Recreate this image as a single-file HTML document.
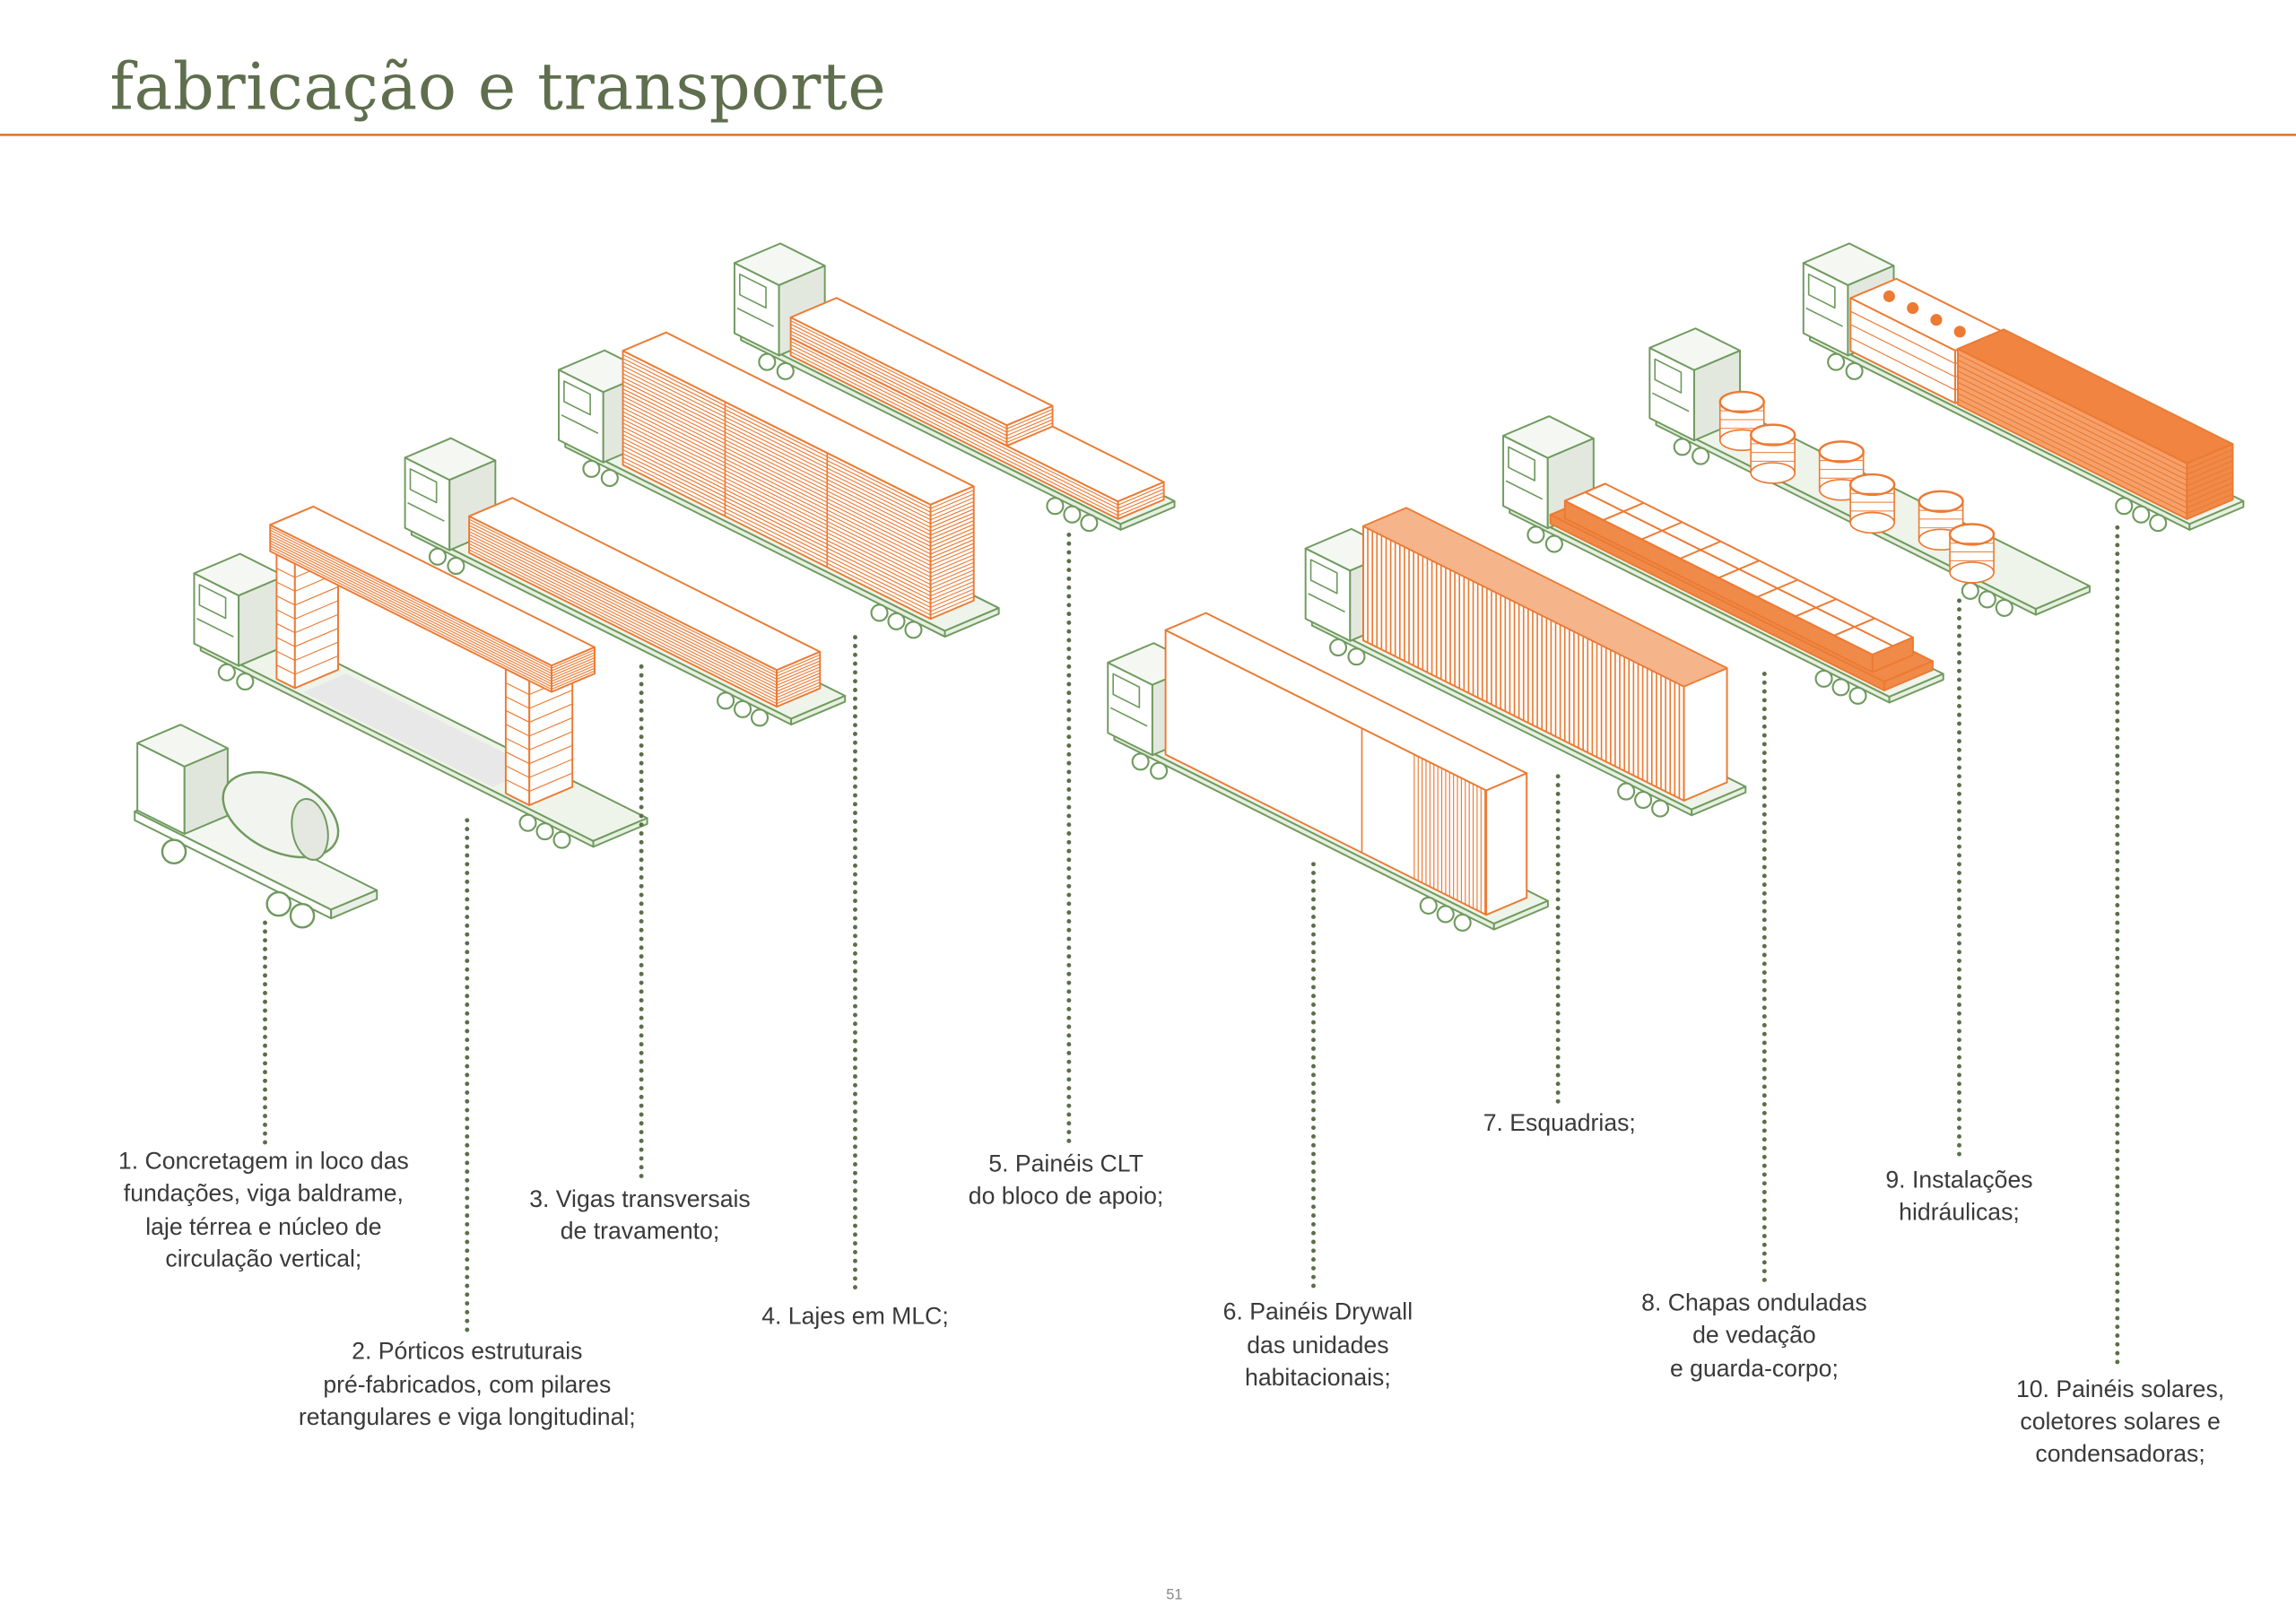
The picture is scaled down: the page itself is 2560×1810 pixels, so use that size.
<!DOCTYPE html>
<html><head><meta charset="utf-8">
<style>
html,body{margin:0;padding:0;background:#fff;}
svg{display:block}
.lb{font-family:"Liberation Sans",sans-serif;font-size:16.3px;fill:#3a3a3a;text-anchor:middle}
</style></head>
<body>
<svg id="s" width="2560" height="1810" viewBox="0 0 1568 1108" xmlns="http://www.w3.org/2000/svg">
<rect width="1568" height="1108" fill="#fff"/>
<text x="75" y="74" style="font-family:'DejaVu Serif','Liberation Serif',serif;font-size:44px;fill:#5f6f4e" textLength="530">fabricação e transporte</text>
<rect x="0" y="91" width="1568" height="1.6" fill="#d9773a"/>
<g id="tr"></g>
<g stroke="#5b6e4a" stroke-width="3" stroke-linecap="round" stroke-dasharray="0 6" fill="none">
<line x1="181" y1="630" x2="181" y2="785"/>
<line x1="319" y1="560" x2="319" y2="910"/>
<line x1="438" y1="455" x2="438" y2="805"/>
<line x1="584" y1="435" x2="584" y2="885"/>
<line x1="730" y1="365" x2="730" y2="780"/>
<line x1="897" y1="590" x2="897" y2="880"/>
<line x1="1064" y1="530" x2="1064" y2="755"/>
<line x1="1205" y1="460" x2="1205" y2="878"/>
<line x1="1338" y1="410" x2="1338" y2="792"/>
<line x1="1446" y1="360" x2="1446" y2="935"/>
</g>
<g class="lb">
<text class="lb" x="180" y="798">1. Concretagem in loco das</text>
<text class="lb" x="180" y="820">fundações, viga baldrame,</text>
<text class="lb" x="180" y="843">laje térrea e núcleo de</text>
<text class="lb" x="180" y="865">circulação vertical;</text>
<text class="lb" x="319" y="928">2. Pórticos estruturais</text>
<text class="lb" x="319" y="951">pré-fabricados, com pilares</text>
<text class="lb" x="319" y="973">retangulares e viga longitudinal;</text>
<text class="lb" x="437" y="824">3. Vigas transversais</text>
<text class="lb" x="437" y="846">de travamento;</text>
<text class="lb" x="584" y="904">4. Lajes em MLC;</text>
<text class="lb" x="728" y="800">5. Painéis CLT</text>
<text class="lb" x="728" y="822">do bloco de apoio;</text>
<text class="lb" x="900" y="901">6. Painéis Drywall</text>
<text class="lb" x="900" y="924">das unidades</text>
<text class="lb" x="900" y="946">habitacionais;</text>
<text class="lb" x="1065" y="772">7. Esquadrias;</text>
<text class="lb" x="1198" y="895">8. Chapas onduladas</text>
<text class="lb" x="1198" y="917">de vedação</text>
<text class="lb" x="1198" y="940">e guarda-corpo;</text>
<text class="lb" x="1338" y="811">9. Instalações</text>
<text class="lb" x="1338" y="833">hidráulicas;</text>
<text class="lb" x="1448" y="954">10. Painéis solares,</text>
<text class="lb" x="1448" y="976">coletores solares e</text>
<text class="lb" x="1448" y="998">condensadoras;</text>
</g>
<text x="802" y="1092" style="font-family:'Liberation Sans',sans-serif;font-size:10px;fill:#888;text-anchor:middle">51</text>
</svg>
<script>
(function(){
var NS="http://www.w3.org/2000/svg",g=document.getElementById("tr");
var u=[0.894,0.447],w=[0.92,-0.39];
var G="#6f9a5e",O="#ec7a33";
function P(o,l,ww,h){return [o[0]+l*u[0]+ww*w[0],o[1]+l*u[1]+ww*w[1]-h];}
function el(n,a){var e=document.createElementNS(NS,n);for(var k in a)e.setAttribute(k,a[k]);g.appendChild(e);return e;}
function poly(pts,f,s,sw){el("polygon",{points:pts.map(function(p){return p[0].toFixed(1)+","+p[1].toFixed(1)}).join(" "),fill:f,stroke:s,"stroke-width":sw||1,"stroke-linejoin":"round"});}
function line(a,b,s,sw){el("line",{x1:a[0],y1:a[1],x2:b[0],y2:b[1],stroke:s,"stroke-width":sw||0.8});}
function box(o,L,W,H,s,fs,ft,fe,n){
 poly([P(o,0,0,0),P(o,L,0,0),P(o,L,0,H),P(o,0,0,H)],fs,s,1.2);
 poly([P(o,0,0,H),P(o,L,0,H),P(o,L,W,H),P(o,0,W,H)],ft,s,1.2);
 poly([P(o,L,0,0),P(o,L,W,0),P(o,L,W,H),P(o,L,0,H)],fe,s,1.2);
 if(n){for(var k=1;k<n;k++){var h=H*k/n;line(P(o,0,0,h),P(o,L,0,h),s,0.7);line(P(o,L,0,h),P(o,L,W,h),s,0.7);}}
}
function truck(D,L){
 box(D,L,40,4,G,"#e6efe0","#eef4ea","#e6efe0");
 [20,34,L-50,L-37,L-24].forEach(function(l){var p=P(D,l,0,-6);el("circle",{cx:p[0],cy:p[1],r:5.5,fill:"#fff",stroke:G,"stroke-width":1.3});});
 var c=P(D,-8,3,0);
 box(c,34,34,48,G,"#fff","#f4f7f2","#e3e8df");
 poly([P(c,4,0,42),P(c,24,0,42),P(c,24,0,28),P(c,4,0,28)],"#fff",G,1);
 line(P(c,2,0,18),P(c,30,0,18),G,1);
}
function cargoO(D,off,L,W,H,n,fill){var o=P(D,off,4,4);box(o,L,W,H,O,fill||"#fff",fill||"#fff",fill||"#fff",n);return o;}
(function(){var D=[92,560];
 box(D,150,34,6,G,"#fff","#f3f6f1","#e9eee6");
 [30,110,128].forEach(function(l){var p=P(D,l,0,-8);el("circle",{cx:p[0],cy:p[1],r:8,fill:"#fff",stroke:G,"stroke-width":1.5});});
 box(P(D,0,2,6),36,32,46,G,"#fff","#f3f6f1","#e1e6dd");
 var c=P(D,95,16,40);
 el("ellipse",{cx:c[0],cy:c[1],rx:42,ry:25,transform:"rotate(26 "+c[0]+" "+c[1]+")",fill:"#f2f4f0",stroke:G,"stroke-width":1.5});
 el("ellipse",{cx:c[0]+20,cy:c[1]+10,rx:12,ry:21,transform:"rotate(-10 "+(c[0]+20)+" "+(c[1]+10)+")",fill:"#e4e8e1",stroke:G,"stroke-width":1.2});
})();
(function(){var D=[137,444];truck(D,300);
 var o=P(D,55,3,4);
 poly([P(o,20,0,0),P(o,165,0,0),P(o,165,32,0),P(o,20,32,0)],"#e8e8e8","none");
 box(P(o,0,0,0),14,32,85,O,"#fff","#fff","#fff",9);
 box(P(o,175,0,0),18,32,85,O,"#fff","#fff","#fff",9);
 box(P(o,-5,0,85),215,32,18,O,"#fff","#fff","#fff",10);
})();
(function(){var D=[281,365];truck(D,290);cargoO(D,40,235,32,25,12);})();
(function(){var D=[386,305];truck(D,290);var o=cargoO(D,40,235,32,78,30);
 line(P(o,78,0,0),P(o,78,0,78),O,1);line(P(o,156,0,0),P(o,156,0,78),O,1);})();
(function(){var D=[506,232];truck(D,290);var o=P(D,35,3,4);
 box(o,250,34,12,O,"#fff","#fff","#fff",5);
 box(P(o,0,0,12),165,34,14,O,"#fff","#fff","#fff",6);})();
(function(){var D=[761,505];truck(D,290);var o=cargoO(D,35,245,30,85,0);
 line(P(o,150,0,0),P(o,150,0,85),O,1);
 for(var l=190;l<245;l+=3)line(P(o,l,0,0),P(o,l,0,85),O,0.7);})();
(function(){var D=[896,427];truck(D,290);var o=cargoO(D,35,245,32,78,0,"#fff");
 for(var l=0;l<245;l+=3.5)line(P(o,l,0,0),P(o,l,0,78),O,1);
 poly([P(o,0,0,78),P(o,245,0,78),P(o,245,32,78),P(o,0,32,78)],"#f5b48a",O,1);})();
(function(){var D=[1031,350];truck(D,290);var o=P(D,28,3,4);
 box(o,255,36,6,O,"#f08a48","#f08a48","#f08a48");
 var o2=P(o,8,3,6);box(o2,235,30,12,O,"#f08a48","#fff","#f08a48");
 for(var l=0;l<=235;l+=29.4)line(P(o2,l,0,12),P(o2,l,30,12),O,1.2);
 line(P(o2,0,15,12),P(o2,235,15,12),O,1.2);})();
(function(){var D=[1131,290];truck(D,290);var o=P(D,45,20,4);
 for(var i=0;i<6;i++){var p=P(o,i*38,(i%2)*-14,20);
  el("rect",{x:p[0]-15,y:p[1]-4,width:30,height:26,fill:"#fff",stroke:O,"stroke-width":1});
  el("ellipse",{cx:p[0],cy:p[1]+22,rx:15,ry:7,fill:"#fff",stroke:O,"stroke-width":1});
  el("ellipse",{cx:p[0],cy:p[1]-4,rx:15,ry:7,fill:"#fff",stroke:O,"stroke-width":1.5});
  for(var k=1;k<4;k++)line([p[0]-15,p[1]-4+k*6],[p[0]+15,p[1]-4+k*6],O,0.6);}
})();
(function(){var D=[1236,232];truck(D,290);var o=P(D,28,3,4);
 box(o,80,34,36,O,"#fff","#fff","#fff",4);
 var o2=P(o,82,0,0);box(o2,175,34,38,O,"#f5a06a","#f08440","#f08a48",10);
 for(var i=0;i<4;i++){var p=P(o,12+i*18,17,36);el("circle",{cx:p[0],cy:p[1],r:4,fill:O});}
})();
})();
</script>
</body></html>
